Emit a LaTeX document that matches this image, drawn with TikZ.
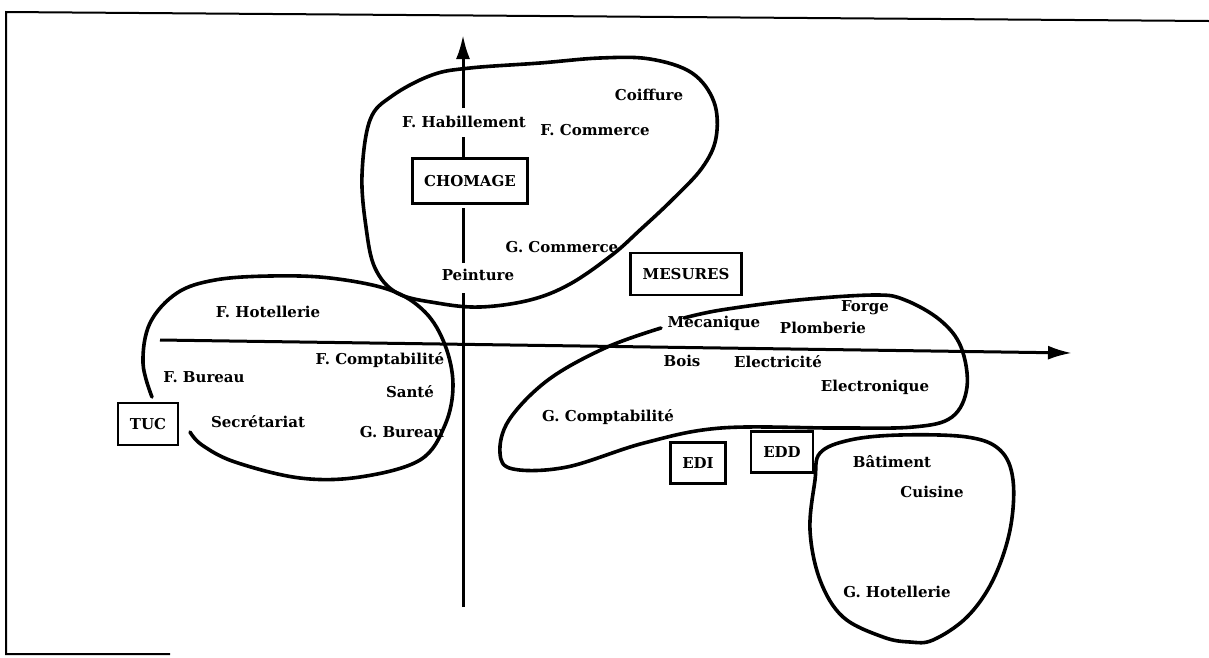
\documentclass[tikz,border=0pt]{standalone}
\usepackage{fontspec}
\setmainfont{DejaVu Serif}
\usetikzlibrary{arrows.meta}
\begin{document}
\begin{tikzpicture}[x=1pt,y=-1pt,
  lbl/.style={font=\bfseries\fontsize{15}{17}\selectfont, inner sep=0pt, anchor=center},
  tag/.style={draw, line width=2.2pt, font=\bfseries\fontsize{15}{17}\selectfont, inner sep=0pt},
  blob/.style={line width=3.6pt, line cap=round, line join=round},
  axis/.style={line width=3pt},
  axistip/.style={axis, -{Latex[length=24pt,width=14pt]}},
  frame/.style={line width=2pt}]
\useasboundingbox (0,0) rectangle (1209,657);
% frame
\coordinate (ftl) at (6,12);
\coordinate (ftr) at (1209,21);
\coordinate (fbl) at (6,654);
\coordinate (fbr) at (170,654);
\draw[frame] (ftr) -- (ftl) -- (fbl) -- (fbr);
% blobs
\draw[blob] plot[smooth cycle, tension=0.6] coordinates {(362,175) (370,120) (392,96) (432,75) (470,68) (540,63) (600,58) (650,59) (692,73) (714,102) (716,138) (702,168) (672,200) (640,230) (612,255) (570,284) (530,300) (480,307) (437,303) (397,293) (375,268) (366,227)};
\draw[blob] plot[smooth, tension=0.6] coordinates {(152,397) (143,363) (150,323) (177,293) (215,280) (270,276) (330,278) (390,290) (425,312) (445,345) (453,385) (445,425) (420,460) (360,477) (300,478) (235,462) (202,445) (190,432)};
\draw[blob] plot[smooth, tension=0.6] coordinates {(661,328) (605,348) (548,380) (509,420) (500,453) (513,469) (567,467) (644,443) (721,428) (836,428) (913,427) (952,417) (967,387) (961,347) (940,320) (905,300) (875,295) (798,300) (721,310) (684,318)};
\draw[blob] plot[smooth cycle, tension=0.6] coordinates {(820,453) (850,440) (900,435) (967,437) (1000,450) (1013,480) (1010,530) (993,580) (967,617) (933,640) (910,642) (883,637) (843,617) (820,580) (810,530) (815,480)};
% axes
\coordinate (v0) at (463,607);
\coordinate (v1) at (463,293);
\coordinate (v2) at (463,263);
\coordinate (v3) at (463,208);
\coordinate (v4) at (463,157);
\coordinate (v5) at (463,137);
\coordinate (v6) at (463,108);
\coordinate (v7) at (463,35);
\draw[axis] (v0) -- (v1);
\draw[axis] (v2) -- (v3);
\draw[axis] (v4) -- (v5);
\draw[axistip] (v6) -- (v7);
\coordinate (h0) at (160,340);
\coordinate (h1) at (1072,353);
\draw[axistip] (h0) -- (h1);
% boxes
\node[tag, minimum width=115pt, minimum height=45pt] (chomage) at (470,181) {CHOMAGE};
\node[tag, minimum width=111pt, minimum height=42pt] (mesures) at (686,274) {MESURES};
\node[tag, minimum width=60pt, minimum height=42pt] (tuc) at (148,424) {TUC};
\node[tag, minimum width=55pt, minimum height=41pt] (edi) at (698,463) {EDI};
\node[tag, minimum width=62pt, minimum height=41pt] (edd) at (782,452) {EDD};
% labels
\node[lbl] (coiffure) at (649,95) {Coiffure};
\node[lbl] (fhab) at (464,122) {F. Habillement};
\node[lbl] (fcom) at (595,130) {F. Commerce};
\node[lbl] (gcom) at (562,247) {G. Commerce};
\node[lbl] (peint) at (478,275) {Peinture};
\node[lbl] (fhot) at (268,312) {F. Hotellerie};
\node[lbl] (fcpt) at (380,360) {F. Comptabilité};
\node[lbl] (fbur) at (204,377) {F. Bureau};
\node[lbl] (sante) at (410,392) {Santé};
\node[lbl] (secr) at (258,422) {Secrétariat};
\node[lbl] (gbur) at (402,432) {G. Bureau};
\node[lbl] (forge) at (865,308) {Forge};
\node[lbl] (meca) at (714,323) {Mécanique};
\node[lbl] (plomb) at (823,328) {Plomberie};
\node[lbl] (bois) at (682,361) {Bois};
\node[lbl] (elec) at (778,362) {Electricité};
\node[lbl] (elecn) at (875,387) {Electronique};
\node[lbl] (gcpt) at (608,417) {G. Comptabilité};
\node[lbl] (bat) at (892,462) {Bâtiment};
\node[lbl] (cuis) at (932,492) {Cuisine};
\node[lbl] (ghot) at (897,592) {G. Hotellerie};
\end{tikzpicture}
\end{document}
